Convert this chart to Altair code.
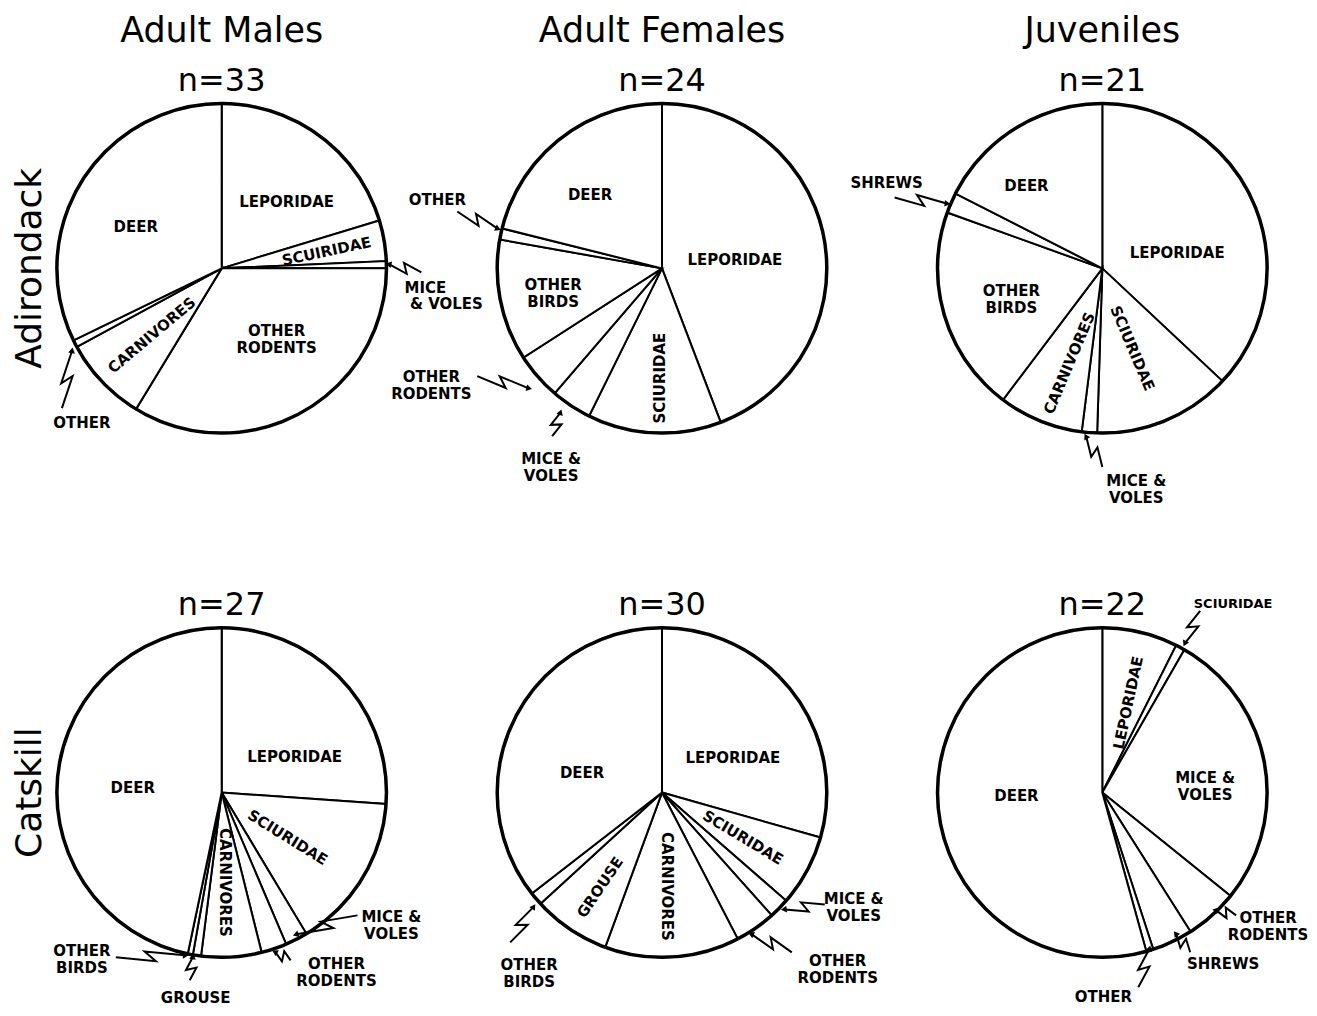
import altair as alt
import numpy as np
import pandas as pd

REGIONS = ["Adirondack", "Catskill"]
GROUPS = ["Adult Males", "Adult Females", "Juveniles"]

N_ADIRONDACK = [33, 24, 21]
N_CATSKILL = [27, 30, 22]

# slice categories clockwise from 12 o'clock and their share (%)
ad_m_cat = ["LEPORIDAE", "SCIURIDAE", "MICE & VOLES", "OTHER RODENTS", "CARNIVORES", "OTHER", "DEER"]
ad_m_val = [20.3, 4.0, 0.7, 33.7, 8.4, 0.7, 32.2]
ad_f_cat = ["LEPORIDAE", "SCIURIDAE", "MICE & VOLES", "OTHER RODENTS", "OTHER BIRDS", "OTHER", "DEER"]
ad_f_val = [44.2, 13.1, 4.0, 4.6, 11.9, 1.1, 21.1]
ad_j_cat = ["LEPORIDAE", "SCIURIDAE", "MICE & VOLES", "CARNIVORES", "OTHER BIRDS", "SHREWS", "DEER"]
ad_j_val = [37.0, 13.5, 1.5, 8.3, 20.2, 2.0, 17.5]
ca_m_cat = ["LEPORIDAE", "SCIURIDAE", "MICE & VOLES", "OTHER RODENTS", "CARNIVORES", "GROUSE", "OTHER BIRDS", "DEER"]
ca_m_val = [26.1, 15.3, 2.2, 2.5, 5.9, 0.8, 0.5, 46.7]
ca_f_cat = ["LEPORIDAE", "SCIURIDAE", "MICE & VOLES", "OTHER RODENTS", "CARNIVORES", "GROUSE", "OTHER BIRDS", "DEER"]
ca_f_val = [29.4, 7.0, 2.0, 4.0, 13.2, 7.6, 1.3, 35.5]
ca_j_cat = ["LEPORIDAE", "SCIURIDAE", "MICE & VOLES", "OTHER RODENTS", "SHREWS", "OTHER", "DEER"]
ca_j_val = [7.4, 0.9, 27.5, 5.2, 4.0, 0.7, 54.3]

PIES = {
    ("Adirondack", "Adult Males"): (ad_m_cat, ad_m_val),
    ("Adirondack", "Adult Females"): (ad_f_cat, ad_f_val),
    ("Adirondack", "Juveniles"): (ad_j_cat, ad_j_val),
    ("Catskill", "Adult Males"): (ca_m_cat, ca_m_val),
    ("Catskill", "Adult Females"): (ca_f_cat, ca_f_val),
    ("Catskill", "Juveniles"): (ca_j_cat, ca_j_val),
}

# ---- annotation layout (offsets from pie centre, px) ----
LABELS = {
    ("Adirondack", "Adult Males"): [
        ("DEER", -86, -41, 0), ("LEPORIDAE", 65, -66, 0), ("SCUIRIDAE", 105, -17, 348),
        ("OTHER\nRODENTS", 55, 63, 0), ("CARNIVORES", -70, 67, 320),
        ("MICE", 204, 20, 0), ("& VOLES", 225, 36, 0), ("OTHER", -140, 155, 0)],
    ("Adirondack", "Adult Females"): [
        ("DEER", -72, -73, 0), ("LEPORIDAE", 73, -8, 0), ("OTHER\nBIRDS", -109, 17, 0),
        ("SCIURIDAE", -2, 110, 270), ("OTHER", -225, -68, 0),
        ("OTHER\nRODENTS", -231, 109, 0), ("MICE &\nVOLES", -111, 191, 0)],
    ("Adirondack", "Juveniles"): [
        ("DEER", -76, -82, 0), ("LEPORIDAE", 75, -15, 0), ("OTHER\nBIRDS", -91, 23, 0),
        ("CARNIVORES", -33, 95, 293), ("SCIURIDAE", 30, 80, 67),
        ("SHREWS", -216, -85, 0), ("MICE &\nVOLES", 34, 213, 0)],
    ("Catskill", "Adult Males"): [
        ("DEER", -89, -5, 0), ("LEPORIDAE", 73, -36, 0), ("SCIURIDAE", 66, 45, 32),
        ("CARNIVORES", 3, 90, 90), ("MICE &\nVOLES", 170, 125, 0),
        ("OTHER\nRODENTS", 115, 172, 0), ("OTHER\nBIRDS", -140, 159, 0), ("GROUSE", -26, 206, 0)],
    ("Catskill", "Adult Females"): [
        ("DEER", -80, -20, 0), ("LEPORIDAE", 71, -35, 0), ("SCIURIDAE", 81, 45, 31),
        ("CARNIVORES", 5, 94, 90), ("GROUSE", -62, 95, 304),
        ("MICE &\nVOLES", 192, 107, 0), ("OTHER\nRODENTS", 176, 169, 0), ("OTHER\nBIRDS", -133, 173, 0)],
    ("Catskill", "Juveniles"): [
        ("DEER", -86, 3, 0), ("LEPORIDAE", 26, -90, 282), ("MICE &\nVOLES", 103, -15, 0),
        ("SCIURIDAE", 131, -189, 0), ("OTHER\nRODENTS", 166, 126, 0),
        ("SHREWS", 121, 172, 0), ("OTHER", 1, 205, 0)],
}

POINTERS = {
    ("Adirondack", "Adult Males"): [(200, 4, 168, -4), (-160, 140, -150, 83)],
    ("Adirondack", "Adult Females"): [(-205, -57, -165, -40), (-185, 108, -134, 120), (-110, 168, -102, 145)],
    ("Adirondack", "Juveniles"): [(-208, -71, -156, -65), (0, 199, -16, 169)],
    ("Catskill", "Adult Males"): [(136, 123, 75, 142), (69, 168, 54, 160), (-106, 165, -37, 163), (-32, 188, -29, 165)],
    ("Catskill", "Adult Females"): [(163, 112, 123, 117), (130, 160, 90, 142), (-152, 150, -129, 115)],
    ("Catskill", "Juveniles"): [(98, -182, 83, -150), (134, 123, 114, 118), (88, 160, 74, 142), (36, 195, 47, 157)],
}

W, H = 336, 420
CX, CY = W / 2, H / 2
R = 165

rows = []
for (reg, grp), (cats, vals) in PIES.items():
    cum = np.cumsum(vals)
    total = cum[-1]
    for c, v, e in zip(cats, vals, cum):
        rows.append(dict(kind="slice", region=reg, group=grp, cat=c,
                         t0=(e - v) / total * 360.0, t1=e / total * 360.0))
    rows.append(dict(kind="ring", region=reg, group=grp, t0=0.0, t1=360.0))
for reg, ns in zip(REGIONS, [N_ADIRONDACK, N_CATSKILL]):
    for grp, n in zip(GROUPS, ns):
        rows.append(dict(kind="n", region=reg, group=grp, ntext=f"n={n}"))
for key, labs in LABELS.items():
    for text, dx, dy, rot in labs:
        fs = 13 if (key == ("Catskill", "Juveniles") and text == "SCIURIDAE") else 15
        rows.append(dict(kind="label", region=key[0], group=key[1], label=text,
                         lx=CX + dx, ly=CY + dy, rot=rot, fs=fs))
pid = 0
for key, ptrs in POINTERS.items():
    for sx, sy, ex, ey in ptrs:
        pid += 1
        d = np.array([ex - sx, ey - sy], dtype=float)
        L = np.hypot(*d)
        u = d / L
        p = np.array([-u[1], u[0]])
        s = np.array([sx, sy], dtype=float)
        pts = [s, s + 0.58 * d + 5 * p, s + 0.42 * d - 5 * p, s + d]
        for k, pt in enumerate(pts):
            rows.append(dict(kind="ptr", region=key[0], group=key[1], pid=pid, seq=k,
                             px=CX + pt[0], py=CY + pt[1]))
        hang = (np.degrees(np.arctan2(d[0], -d[1])) + 360) % 360
        rows.append(dict(kind="head", region=key[0], group=key[1],
                         px=CX + ex, py=CY + ey, hang=hang))

df = pd.DataFrame(rows)

theta_scale = alt.Scale(domain=[0, 360], range=[0, 2 * np.pi])

slices = alt.Chart().transform_filter(alt.datum.kind == "slice").mark_arc(
    radius=R, fill="white", stroke="black", strokeWidth=2
).encode(theta=alt.Theta("t0:Q", scale=theta_scale), theta2="t1:Q")

ring = alt.Chart().transform_filter(alt.datum.kind == "ring").mark_arc(
    radius=R, fillOpacity=0, stroke="black", strokeWidth=3.5
).encode(theta=alt.Theta("t0:Q", scale=theta_scale), theta2="t1:Q")

ptr = alt.Chart().transform_filter(alt.datum.kind == "ptr").mark_line(
    color="black", strokeWidth=2
).encode(
    x=alt.X("px:Q", scale=None, axis=None),
    y=alt.Y("py:Q", scale=None, axis=None),
    detail="pid:N", order="seq:Q",
)

heads = alt.Chart().transform_filter(alt.datum.kind == "head").mark_point(
    shape="triangle", filled=True, size=45, color="black", opacity=1
).encode(
    x=alt.X("px:Q", scale=None, axis=None),
    y=alt.Y("py:Q", scale=None, axis=None),
    angle=alt.Angle("hang:Q", scale=None),
)

labels = alt.Chart().transform_filter(alt.datum.kind == "label").mark_text(
    font="DejaVu Sans", fontWeight="bold", lineBreak="\n", lineHeight=17,
    align="center", baseline="middle", color="black"
).encode(
    x=alt.X("lx:Q", scale=None, axis=None),
    y=alt.Y("ly:Q", scale=None, axis=None),
    text="label:N",
    angle=alt.Angle("rot:Q", scale=None),
    size=alt.Size("fs:Q", scale=None),
)

nlab = alt.Chart().transform_filter(alt.datum.kind == "n").mark_text(
    font="DejaVu Sans", fontSize=32, baseline="middle", color="black"
).encode(x=alt.value(CX), y=alt.value(22), text="ntext:N")

chart = alt.layer(slices, ring, ptr, heads, labels, nlab, data=df).properties(
    width=W, height=H
).facet(
    row=alt.Row("region:N", sort=REGIONS, title=None,
                header=alt.Header(labelFont="DejaVu Sans", labelFontSize=36,
                                  labelColor="black", labelPadding=5)),
    column=alt.Column("group:N", sort=GROUPS, title=None,
                      header=alt.Header(labelFont="DejaVu Sans", labelFontSize=35,
                                        labelColor="black", labelPadding=10)),
    spacing={"row": 105, "column": 105},
    bounds="flush",
).properties(
    padding={"left": 3, "top": 5, "right": 0, "bottom": 0}, background="white"
).configure_view(strokeWidth=0)

chart.save("out.html", embed_options={"renderer": "svg", "actions": False})
